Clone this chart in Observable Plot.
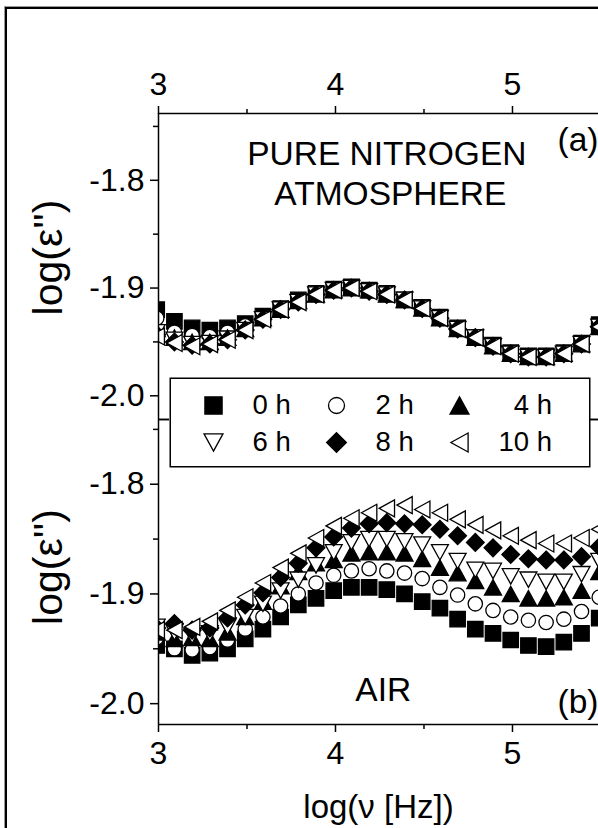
<!DOCTYPE html>
<html><head><meta charset="utf-8">
<script src="https://cdn.jsdelivr.net/npm/d3@7"></script>
<script src="https://cdn.jsdelivr.net/npm/@observablehq/plot@0.6"></script>
<style>
html,body{margin:0;padding:0;background:#fff;overflow:hidden;width:598px;height:828px;}
#wrap{position:relative;width:598px;height:828px;overflow:hidden;background:#fff;}
#outer{position:absolute;left:5px;top:7px;width:700px;height:900px;border-left:2px solid #000;border-top:2px solid #000;box-shadow:-1px -1px 0 #9a9a9a;}
.layer{position:absolute;left:0;top:0;}
#legend{position:absolute;left:169px;top:377px;}
#wrap svg.layer g[aria-label="x-axis tick label"], #wrap svg.layer g[aria-label="y-axis tick label"]{font-size:32px;}
</style></head><body><div id="wrap"><div id="outer"></div></div>
<script>
// ---- data ----
const logFreq = [2.99, 3.09, 3.19, 3.29, 3.39, 3.49, 3.59, 3.69, 3.79, 3.89, 3.99, 4.09, 4.19, 4.29, 4.39, 4.49, 4.59, 4.69, 4.79, 4.89, 4.99, 5.09, 5.19, 5.29, 5.39, 5.49];
const seriesNames = ["0 h", "2 h", "4 h", "6 h", "8 h", "10 h"];

// (a) pure nitrogen atmosphere
const nitrogen0h  = [-1.920, -1.931, -1.937, -1.939, -1.937, -1.933, -1.926, -1.919, -1.911, -1.905, -1.901, -1.899, -1.902, -1.905, -1.911, -1.918, -1.927, -1.937, -1.946, -1.953, -1.960, -1.963, -1.963, -1.960, -1.951, -1.934];
const nitrogen2h  = [-1.928, -1.941, -1.944, -1.945, -1.941, -1.935, -1.927, -1.919, -1.912, -1.905, -1.901, -1.900, -1.902, -1.906, -1.911, -1.919, -1.928, -1.938, -1.946, -1.954, -1.961, -1.964, -1.963, -1.961, -1.952, -1.935];
const nitrogen4h  = [-1.938, -1.946, -1.950, -1.950, -1.946, -1.938, -1.928, -1.920, -1.912, -1.906, -1.902, -1.900, -1.902, -1.906, -1.911, -1.919, -1.928, -1.938, -1.946, -1.954, -1.961, -1.964, -1.964, -1.961, -1.952, -1.936];
const nitrogen6h  = [-1.941, -1.948, -1.952, -1.951, -1.947, -1.939, -1.929, -1.920, -1.913, -1.906, -1.902, -1.900, -1.903, -1.906, -1.911, -1.919, -1.928, -1.938, -1.946, -1.954, -1.961, -1.964, -1.964, -1.961, -1.952, -1.936];
const nitrogen8h  = [-1.943, -1.950, -1.953, -1.952, -1.948, -1.939, -1.929, -1.920, -1.913, -1.906, -1.902, -1.900, -1.903, -1.906, -1.911, -1.919, -1.928, -1.938, -1.946, -1.954, -1.961, -1.964, -1.964, -1.961, -1.952, -1.936];
const nitrogen10h = [-1.945, -1.951, -1.954, -1.952, -1.948, -1.939, -1.929, -1.920, -1.913, -1.906, -1.902, -1.900, -1.903, -1.906, -1.911, -1.919, -1.928, -1.938, -1.946, -1.954, -1.961, -1.964, -1.964, -1.961, -1.952, -1.936];

// (b) air
const air0h  = [-1.947, -1.950, -1.956, -1.954, -1.950, -1.941, -1.932, -1.921, -1.910, -1.904, -1.897, -1.894, -1.894, -1.896, -1.900, -1.907, -1.913, -1.923, -1.932, -1.936, -1.942, -1.947, -1.948, -1.944, -1.936, -1.922];
const air2h  = [-1.940, -1.950, -1.951, -1.949, -1.942, -1.932, -1.921, -1.911, -1.900, -1.890, -1.883, -1.879, -1.877, -1.879, -1.881, -1.886, -1.894, -1.901, -1.909, -1.915, -1.921, -1.924, -1.926, -1.923, -1.916, -1.903];
const air4h  = [-1.935, -1.941, -1.940, -1.941, -1.935, -1.921, -1.907, -1.893, -1.880, -1.872, -1.869, -1.863, -1.862, -1.862, -1.863, -1.868, -1.876, -1.881, -1.888, -1.894, -1.900, -1.904, -1.904, -1.903, -1.897, -1.880];
const air6h  = [-1.930, -1.935, -1.938, -1.936, -1.930, -1.921, -1.909, -1.897, -1.887, -1.874, -1.862, -1.853, -1.850, -1.850, -1.852, -1.855, -1.862, -1.870, -1.878, -1.879, -1.884, -1.887, -1.889, -1.889, -1.882, -1.870];
const air8h  = [-1.931, -1.927, -1.933, -1.931, -1.922, -1.910, -1.899, -1.885, -1.872, -1.858, -1.848, -1.840, -1.836, -1.835, -1.836, -1.837, -1.841, -1.847, -1.853, -1.858, -1.864, -1.868, -1.869, -1.869, -1.866, -1.857];
const air10h = [-1.933, -1.933, -1.930, -1.925, -1.915, -1.903, -1.890, -1.876, -1.863, -1.849, -1.838, -1.831, -1.826, -1.822, -1.819, -1.823, -1.826, -1.832, -1.837, -1.842, -1.847, -1.851, -1.854, -1.854, -1.849, -1.841];

// axes
const xDomain = [3, 5.486];
const topYDomain = [-2.022, -1.738];
const bottomYDomain = [-2.019, -1.741];
const xMajor = [3, 4, 5];
const xMinor = [3.5, 4.5];
const yMajor = [-1.8, -1.9, -2.0];
const yMinor = [-1.75, -1.85, -1.95];
const yTitle = "log(\u03B5'')";
const xTitle = "log(\u03BD [Hz])";

const topNotes = [
  {x: 4.29, y: -1.776, text: "PURE NITROGEN"},
  {x: 4.31, y: -1.813, text: "ATMOSPHERE"},
  {x: 5.37, y: -1.763, text: "(a)"}
];
const bottomNotes = [
  {x: 4.27, y: -1.988, text: "AIR"},
  {x: 5.37, y: -1.999, text: "(b)"}
];

// ---- marker shapes ----
const rOf = s => Math.sqrt(s / Math.PI);
const shapes = {
  square: {draw(c, s) { const r = rOf(s); c.moveTo(-r, -r); c.lineTo(r, -r); c.lineTo(r, r); c.lineTo(-r, r); c.closePath(); }},
  circle: {draw(c, s) { const r = rOf(s) * 0.93; c.moveTo(r, 0); c.arc(0, 0, r, 0, 2 * Math.PI); c.closePath(); }},
  up: {draw(c, s) { const r = rOf(s); c.moveTo(0, -r); c.lineTo(1.1 * r, r); c.lineTo(-1.1 * r, r); c.closePath(); }},
  down: {draw(c, s) { const r = rOf(s); c.moveTo(0, r); c.lineTo(1.1 * r, -r); c.lineTo(-1.1 * r, -r); c.closePath(); }},
  diamond: {draw(c, s) { const r = rOf(s) * 1.15; c.moveTo(0, -r); c.lineTo(r, 0); c.lineTo(0, r); c.lineTo(-r, 0); c.closePath(); }},
  left: {draw(c, s) { const r = rOf(s); c.moveTo(-r, 0); c.lineTo(r, -1.1 * r); c.lineTo(r, 1.1 * r); c.closePath(); }}
};
const seriesShape = ["square", "circle", "up", "down", "diamond", "left"];
const seriesFilled = [true, false, true, false, true, false];

const FONT = "'Liberation Sans', Arial, Helvetica, sans-serif";

function rowsOf(arrays) {
  const out = [];
  arrays.forEach((vals, i) => vals.forEach((v, k) => out.push({series: seriesNames[i], x: logFreq[k], y: v})));
  return out;
}

function panel({arrays, yDomain, marginTop, marginBottom, axisAnchor, notes, withXTitle, titleShift}) {
  const rows = rowsOf(arrays);
  const dots = seriesNames.map((name, i) => Plot.dot(rows.filter(d => d.series === name), {
    x: "x", y: "y", r: 7.7, symbol: shapes[seriesShape[i]],
    fill: seriesFilled[i] ? "#000" : "#fff", stroke: "#000", strokeWidth: 1.3, clip: true
  }));
  const marks = [
    Plot.axisX({anchor: axisAnchor, ticks: xMajor, tickSize: 8, tickPadding: axisAnchor === "top" ? 11 : 9, tickFormat: d => String(d), strokeWidth: 1.5, fontSize: 32, label: null}),
    Plot.axisX({anchor: axisAnchor, ticks: xMinor, tickSize: 5, tickFormat: () => "", strokeWidth: 1.5, label: null}),
    Plot.axisY({anchor: "left", ticks: yMajor, tickSize: 8, tickPadding: 6, tickFormat: d => d.toFixed(1), strokeWidth: 1.5, fontSize: 32, label: null}),
    Plot.axisY({anchor: "left", ticks: yMinor, tickSize: 5, tickFormat: () => "", strokeWidth: 1.5, label: null}),
    ...dots,
    Plot.ruleX([xDomain[0]], {stroke: "#000", strokeWidth: 1.5}),
    Plot.ruleY(yDomain, {stroke: "#000", strokeWidth: 1.5}),
    Plot.text(notes, {x: "x", y: "y", text: "text", fontSize: 33.5, fill: "#000"}),
    Plot.text([yTitle], {frameAnchor: "left", textAnchor: "middle", lineAnchor: "middle", dx: -110, dy: titleShift, rotate: -90, fontSize: 41, fill: "#000"})
  ];
  if (withXTitle) marks.push(Plot.text([xTitle], {frameAnchor: "bottom", textAnchor: "middle", lineAnchor: "middle", dy: 83, fontSize: 33, fill: "#000"}));
  const svg = Plot.plot({
    width: 598, height: 828, marginLeft: 158, marginRight: 0, marginTop, marginBottom,
    x: {domain: xDomain}, y: {domain: yDomain},
    style: {fontFamily: FONT, fontSize: "28px", background: "transparent", overflow: "visible", color: "#000"},
    marks
  });
  svg.classList.add("layer");
  return svg;
}

const wrap = document.getElementById("wrap");
wrap.appendChild(panel({
  arrays: [nitrogen0h, nitrogen2h, nitrogen4h, nitrogen6h, nitrogen8h, nitrogen10h],
  yDomain: topYDomain, marginTop: 113, marginBottom: 828 - 419, axisAnchor: "top", notes: topNotes, withXTitle: false, titleShift: -9
}));
wrap.appendChild(panel({
  arrays: [air0h, air2h, air4h, air6h, air8h, air10h],
  yDomain: bottomYDomain, marginTop: 419, marginBottom: 828 - 724, axisAnchor: "bottom", notes: bottomNotes, withXTitle: true, titleShift: -5
}));

// legend
const legendRows = seriesNames.map((name, i) => ({name, i, col: i % 3, row: Math.floor(i / 3)}));
const legend = Plot.plot({
  width: 421, height: 90, margin: 0,
  x: {domain: [0, 2], range: [44, 290], axis: null},
  y: {domain: [0, 1], range: [28, 65], axis: null},
  style: {fontFamily: FONT, fontSize: "27px", background: "#fff", color: "#000", overflow: "visible"},
  marks: [
    Plot.frame({stroke: "#000", strokeWidth: 1.5, inset: 0.75}),
    ...legendRows.map(d => Plot.dot([d], {x: "col", y: "row", r: 8.6, symbol: shapes[seriesShape[d.i]],
      fill: seriesFilled[d.i] ? "#000" : "#fff", stroke: "#000", strokeWidth: 1.3})),
    Plot.text(legendRows, {x: "col", y: "row", text: d => d.col === 2 ? d.name.padStart(4, "\u2007") : d.name,
      dx: 39, textAnchor: "start", fontSize: 27.5, fill: "#000"})
  ]
});
legend.id = "legend";
wrap.appendChild(legend);
</script></body></html>
